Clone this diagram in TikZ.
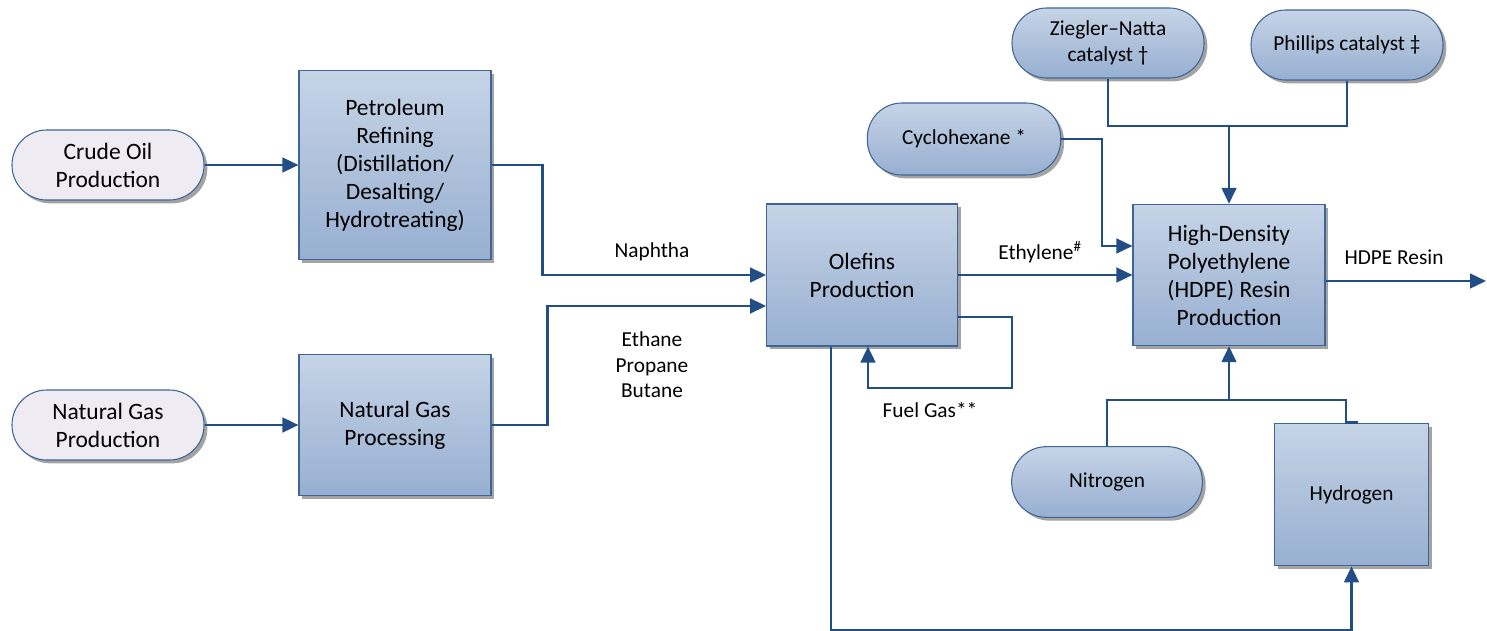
\documentclass[tikz,border=0pt]{standalone}
\usepackage{fontspec}
\setmainfont{Carlito}
\usetikzlibrary{shadows,arrows.meta,calc}
\definecolor{edgecol}{HTML}{3F6598}
\definecolor{linecol}{HTML}{234D85}
\definecolor{topblue}{HTML}{C6D4E6}
\definecolor{botblue}{HTML}{97AFD1}
\definecolor{lav}{HTML}{EEEBF3}
\definecolor{shad}{HTML}{A3A3A3}
\tikzset{
  base/.style={draw=edgecol, line width=0.8pt, inner sep=0pt, align=center,
    drop shadow={shadow xshift=2.5pt, shadow yshift=-2.5pt, fill=shad, opacity=1}},
  bigtxt/.style={font=\fontsize{17.6}{21}\selectfont},
  smalltxt/.style={font=\fontsize{16}{19}\selectfont},
  procbox/.style={base, bigtxt, rectangle, top color=topblue, bottom color=botblue},
  pillsrc/.style={base, bigtxt, rectangle, rounded corners=26pt, fill=lav,
    minimum width=144pt, minimum height=52.5pt},
  pillblue/.style={base, smalltxt, rectangle, rounded corners=26pt,
    top color=topblue, bottom color=botblue, minimum width=144pt, minimum height=52.5pt},
  line/.style={draw=linecol, line width=1.9pt},
  flow/.style={line, -{Triangle[length=12pt,width=11pt]}},
  lbl/.style={smalltxt, align=center, inner sep=1pt}
}
\begin{document}
\begin{tikzpicture}[x=0.75pt,y=-0.75pt]
\useasboundingbox (0,0) rectangle (1487,631);
% nodes
\node[pillsrc] (crude) at (108,165) {Crude Oil\\Production};
\node[pillsrc] (ngprod) at (108,425) {Natural Gas\\Production};
\node[procbox, minimum width=144pt, minimum height=142pt] (refine) at (395,165)
  {Petroleum\\Refining\\(Distillation/\\Desalting/\\Hydrotreating)};
\node[procbox, minimum width=144pt, minimum height=106pt] (ngproc) at (395,425)
  {Natural Gas\\Processing};
\node[procbox, minimum width=143pt, minimum height=106.5pt] (olefins) at (862,275)
  {Olefins\\Production};
\node[procbox, minimum width=144pt, minimum height=106pt] (hdpe) at (1229,275)
  {High-Density\\Polyethylene\\(HDPE) Resin\\Production};
\node[pillblue, minimum width=145pt, minimum height=54pt] (cyclo) at (964,139) {Cyclohexane *};
\node[pillblue] (zn) at (1108,43) {Ziegler–Natta\\catalyst †};
\node[pillblue] (phil) at (1347,45) {Phillips catalyst ‡};
\node[pillblue, minimum width=143pt, minimum height=53pt] (nitro) at (1107,482) {Nitrogen};
\node[procbox, smalltxt, minimum width=116pt, minimum height=107pt] (hydro) at (1351.5,494.5) {Hydrogen};
% coordinates
\coordinate (cj) at ($(hdpe.north)+(0,-78)$);
\coordinate (nj) at ($(hdpe.south)+(0,54)$);
\coordinate (out) at (1486,281);
% connectors
\draw[flow] (crude.east) -- (refine.west);
\draw[flow] (ngprod.east) -- (ngproc.west);
\draw[flow] (refine.east) -- ++(51,0) |- (olefins.west);
\draw[flow] (ngproc.east) -- ++(56,0) |- ($(olefins.west)+(0,31)$);
\draw[flow] (olefins.east) -- (hdpe.west);
\draw[flow] ($(olefins.east)+(0,42)$) -- ++(54,0) -- ++(0,71) -| ($(olefins.south)+(6,0)$);
\draw[flow] ($(olefins.south)+(-31,0)$) -- ++(0,284) -| (hydro.south);
\draw[flow] (cyclo.east) -- ++(41,0) |- ($(hdpe.west)+(0,-29)$);
\draw[line] (zn.south) |- (cj) -| (phil.south);
\draw[flow] (cj) -- (hdpe.north);
\draw[line] (nitro.north) |- (nj) -| ($(hydro.north)+(-5.5,0)$) -- ++(12,0);
\draw[flow] (nj) -- (hdpe.south);
\draw[flow] ($(hdpe.east)+(0,6)$) -- (out);
% labels
\node[lbl] (lnaph) at (652,252) {Naphtha};
\node[lbl] (leth) at (652,365) {Ethane\\Propane\\Butane};
\node[lbl] (lethy) at (1040,252) {Ethylene\textsuperscript{\#}};
\node[lbl] (lfuel) at (930,410) {Fuel Gas**};
\node[lbl] (lres) at (1394,257) {HDPE Resin};
\end{tikzpicture}
\end{document}
